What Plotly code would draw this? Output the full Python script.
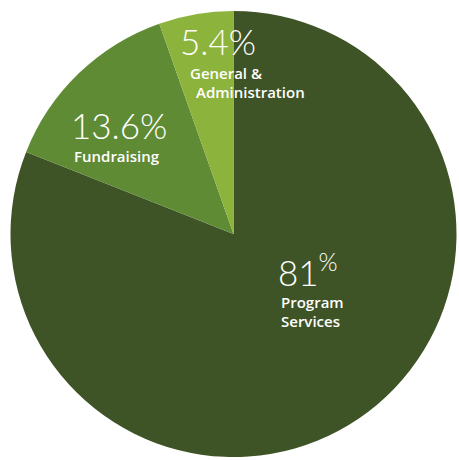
import plotly.graph_objects as go

labels = ["Program Services", "Fundraising", "General & Administration"]
values = [81, 13.6, 5.4]
pct_text = ["81", "13.6%", "5.4%"]
name_lines = [["Program", "Services"], ["Fundraising"], ["General &", "Administration"]]
colors = ["#3e5426", "#5f8b34", "#8cb33c"]

W, H = 459, 460

def px(x):
    return x / W

def py(y):
    return 1 - y / H

fig = go.Figure(go.Pie(
    labels=labels, values=values, sort=False, direction="clockwise", rotation=0,
    marker=dict(colors=colors, line=dict(width=0)),
    textinfo="none", hoverinfo="label+percent", showlegend=False,
    domain=dict(x=[px(9), px(458)], y=[py(457), py(11)]),
))

big = dict(family="Lato", size=35, color="white", weight=300)
small = dict(family="Open Sans", size=15, color="white", weight=600)

ann = []
# Program Services
ann.append(dict(x=px(276), y=py(270), text=pct_text[0] + "<sup>%</sup>", font=big))
ann.append(dict(x=px(279), y=py(302), text=name_lines[0][0], font=small))
ann.append(dict(x=px(279), y=py(321), text=name_lines[0][1], font=small))
# Fundraising
ann.append(dict(x=px(69), y=py(125), text=pct_text[1], font=big))
ann.append(dict(x=px(72), y=py(156), text=name_lines[1][0], font=small))
# G&A
ann.append(dict(x=px(178), y=py(41), text=pct_text[2], font=big))
ann.append(dict(x=px(188), y=py(73), text=name_lines[2][0], font=small))
ann.append(dict(x=px(194), y=py(92), text=name_lines[2][1], font=small))

for a in ann:
    a.update(xref="paper", yref="paper", xanchor="left", yanchor="middle", showarrow=False)

fig.update_layout(width=W, height=H, margin=dict(l=0, r=0, t=0, b=0),
                  paper_bgcolor="white", plot_bgcolor="white", annotations=ann)
fig.write_html("out.html")
